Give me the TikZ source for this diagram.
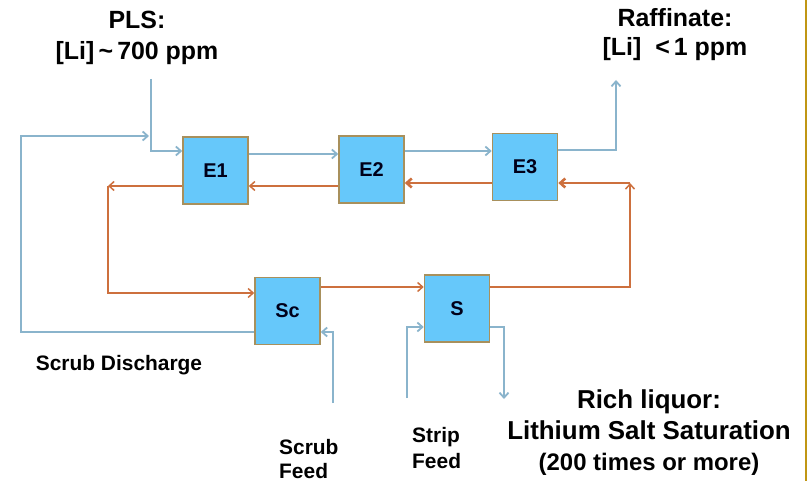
\documentclass[tikz,border=0pt]{standalone}
\usepackage{fontspec}
\setmainfont{Liberation Sans}
\usetikzlibrary{arrows.meta}
\definecolor{flowblue}{RGB}{138,180,204}
\definecolor{floworange}{RGB}{205,112,62}
\definecolor{boxfill}{RGB}{102,200,250}
\definecolor{boxedge}{RGB}{168,144,92}
\definecolor{edgegold}{RGB}{192,150,20}
\begin{document}
\begin{tikzpicture}[x=1bp,y=-1bp,
  stage/.style={draw=boxedge,line width=1.6bp,fill=boxfill,minimum width=65bp,minimum height=67bp,inner sep=0pt,
    font=\fontsize{20}{20}\selectfont\bfseries,text=black!90!blue},
  tip/.style={-{Straight Barb[length=5bp,width=9bp]}},
  bline/.style={draw=flowblue,line width=1.8bp,tip},
  oline/.style={draw=floworange,line width=1.5bp,tip},
  othick/.style={draw=floworange,line width=2.6bp,tip},
  lbl/.style={font=\bfseries,inner sep=0pt,align=center}]
\useasboundingbox (0,0) rectangle (808,481);
\fill[white] (0,0) rectangle (808,481);
\draw[edgegold,line width=2bp] (805.5,0) -- (805.5,481);

% stages
\node[stage] (E1) at (215.5,170.5) {E1};
\node[stage] (E2) at (371.5,169.5) {E2};
\node[stage] (E3) at (525,167) {E3};
\node[stage] (Sc) at (287.5,311) {Sc};
\node[stage] (S) at (457,308.5) {S};

% helper coordinates
\coordinate (plsTop) at (151,79);
\coordinate (plsBend) at (151,151);
\coordinate (sdA) at (21,332);
\coordinate (sdB) at (21,136);
\coordinate (sdEnd) at (149,136);
\coordinate (y154) at (0,154);
\coordinate (y151) at (0,151);
\coordinate (y150) at (0,150);
\coordinate (y183) at (0,183);
\coordinate (y186) at (0,186);
\coordinate (y287) at (0,287);
\coordinate (raffBend) at (616,150);
\coordinate (raffTop) at (616,80);
\coordinate (lBend) at (108,186);
\coordinate (lLow) at (108,293);
\coordinate (rLow) at (630,287);
\coordinate (rUp) at (630,183);
\coordinate (sfBot) at (333,403);
\coordinate (sfBend) at (333,332);
\coordinate (stBot) at (407,398);
\coordinate (stBend) at (407,327);
\coordinate (outBend) at (504,327);
\coordinate (outEnd) at (504,399);

% blue (aqueous) flows
\draw[bline] (plsTop) -- (plsBend) -- (E1.west |- plsBend);
\draw[bline] (Sc.west |- sdA) -- (sdA) -- (sdB) -- (sdEnd);
\draw[bline] (E1.east |- y154) -- (E2.west |- y154);
\draw[bline] (E2.east |- y151) -- (E3.west |- y151);
\draw[bline] (E3.east |- y150) -- (raffBend) -- (raffTop);
\draw[bline] (sfBot) -- (sfBend) -- (Sc.east |- sfBend);
\draw[bline] (stBot) -- (stBend) -- (S.west |- stBend);
\draw[bline] (S.east |- outBend) -- (outBend) -- (outEnd);

% orange (organic) flows
\draw[othick] (E3.west |- y183) -- (E2.east |- y183);
\draw[oline] (E2.west |- y186) -- (E1.east |- y186);
\draw[oline] (E1.west |- y186) -- (lBend);
\draw[oline] (lBend) -- (lLow) -- (Sc.west |- lLow);
\draw[oline] (Sc.east |- y287) -- (S.west |- y287);
\draw[oline] (S.east |- y287) -- (rLow) -- (rUp);
\draw[othick] (rUp) -- (E3.east |- rUp);

% labels (anchor base = baseline of the last line)
\node[lbl,font=\fontsize{25}{32}\selectfont\bfseries,anchor=base] (pls) at (137,60) {PLS:\\{}[Li]\,\textasciitilde\,700 ppm};
\node[lbl,font=\fontsize{25}{30}\selectfont\bfseries,anchor=base] (raff) at (675,56) {Raffinate:\\{}[Li]\ \ \textless\,1 ppm};
\node[lbl,font=\fontsize{21}{21}\selectfont\bfseries,anchor=base] (sd) at (119,370) {Scrub Discharge};
\node[lbl,font=\fontsize{21}{24}\selectfont\bfseries,anchor=base west,align=left] (sfeed) at (279,478) {Scrub\\Feed};
\node[lbl,font=\fontsize{21}{26}\selectfont\bfseries,anchor=base west,align=left] (stfeed) at (412,468) {Strip\\Feed};
\node[lbl,font=\fontsize{26}{31}\selectfont\bfseries,anchor=base] (rich) at (649,470) {Rich liquor:\\Lithium Salt Saturation\\{\fontsize{24}{32}\selectfont (200 times or more)}};
\end{tikzpicture}
\end{document}
